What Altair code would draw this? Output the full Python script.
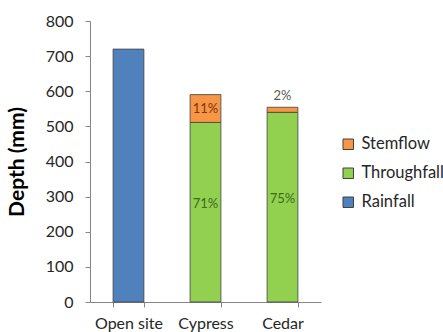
import altair as alt
import pandas as pd

# Site categories and the rainfall measured in the open
sites = ["Open site", "Cypress", "Cedar"]
rainfall_mm = 720

# Partitioning of rainfall under each canopy, as % of open-site rainfall
throughfall_pct = [None, 71, 75]
stemflow_pct = [None, 11, 2]

series_order = ["Stemflow", "Throughfall", "Rainfall"]
series_colors = ["#F79646", "#92D050", "#4F81BD"]

rows = []
labels = []
for i, site in enumerate(sites):
    if throughfall_pct[i] is None:
        rows.append({"site": site, "series": "Rainfall", "depth": rainfall_mm, "stack": 0})
        continue
    tf = rainfall_mm * throughfall_pct[i] / 100
    sf = rainfall_mm * stemflow_pct[i] / 100
    rows.append({"site": site, "series": "Throughfall", "depth": tf, "stack": 0})
    rows.append({"site": site, "series": "Stemflow", "depth": sf, "stack": 1})
    labels.append({"site": site, "text": f"{throughfall_pct[i]}%", "depth": tf / 2 + 22,
                   "color": "#3B6B1C"})
    if stemflow_pct[i] >= 5:
        labels.append({"site": site, "text": f"{stemflow_pct[i]}%", "depth": tf + sf / 2,
                       "color": "#7A3510"})
    else:
        labels.append({"site": site, "text": f"{stemflow_pct[i]}%", "depth": tf + sf + 33,
                       "color": "#595959"})

bars_df = pd.DataFrame(rows)
labels_df = pd.DataFrame(labels)

FONT = "Lato"

x_axis = alt.Axis(
    labelAngle=0, labelFontSize=16, labelColor="#262626", labelFont=FONT,
    labelPadding=8, tickBand="extent", ticks=True, tickSize=5, tickColor="#868686",
    domainColor="#868686",
)
y_axis = alt.Axis(
    values=list(range(0, 801, 100)), grid=False, labelOverlap=False,
    labelFontSize=16, labelColor="#262626", labelFont=FONT, labelPadding=12,
    tickSize=5, tickColor="#868686", domainColor="#868686", titleFont=FONT,
    titleFontSize=21, titleFontWeight="bold", titleColor="#000000",
    titleX=-63, titlePadding=6,
)
x_scale = alt.Scale(paddingInner=0.6, paddingOuter=0.3)
y_scale = alt.Scale(domain=[0, 800])

bars = alt.Chart(bars_df).mark_bar(stroke="#404040", strokeWidth=0.8).encode(
    x=alt.X("site:N", sort=sites, title=None, scale=x_scale, axis=x_axis),
    y=alt.Y("depth:Q", stack="zero", scale=y_scale, title="Depth (mm)", axis=y_axis),
    color=alt.Color(
        "series:N",
        scale=alt.Scale(domain=series_order, range=series_colors),
        legend=alt.Legend(
            title=None, orient="none", legendX=250, legendY=115,
            symbolType="square", symbolSize=110, symbolStrokeColor="#404040",
            symbolStrokeWidth=1, labelFontSize=16.5, labelFont=FONT,
            labelColor="#262626", rowPadding=12, labelOffset=5,
        ),
    ),
    order=alt.Order("stack:Q"),
)

text = alt.Chart(labels_df).mark_text(fontSize=13, font=FONT, baseline="middle").encode(
    x=alt.X("site:N", sort=sites, title=None, scale=x_scale, axis=x_axis),
    y=alt.Y("depth:Q", stack=None, scale=y_scale, title="Depth (mm)", axis=y_axis),
    text="text:N",
    color=alt.Color("color:N", scale=None),
)

chart = (
    alt.layer(bars, text)
    .properties(
        width=231, height=281,
        autosize=alt.AutoSizeParams(type="none"),
        padding={"left": 90, "top": 21, "right": 122, "bottom": 30},
    )
    .configure(background="white")
    .configure_view(strokeWidth=0)
)

chart.save("out.html", embed_options={"renderer": "svg", "actions": False})
